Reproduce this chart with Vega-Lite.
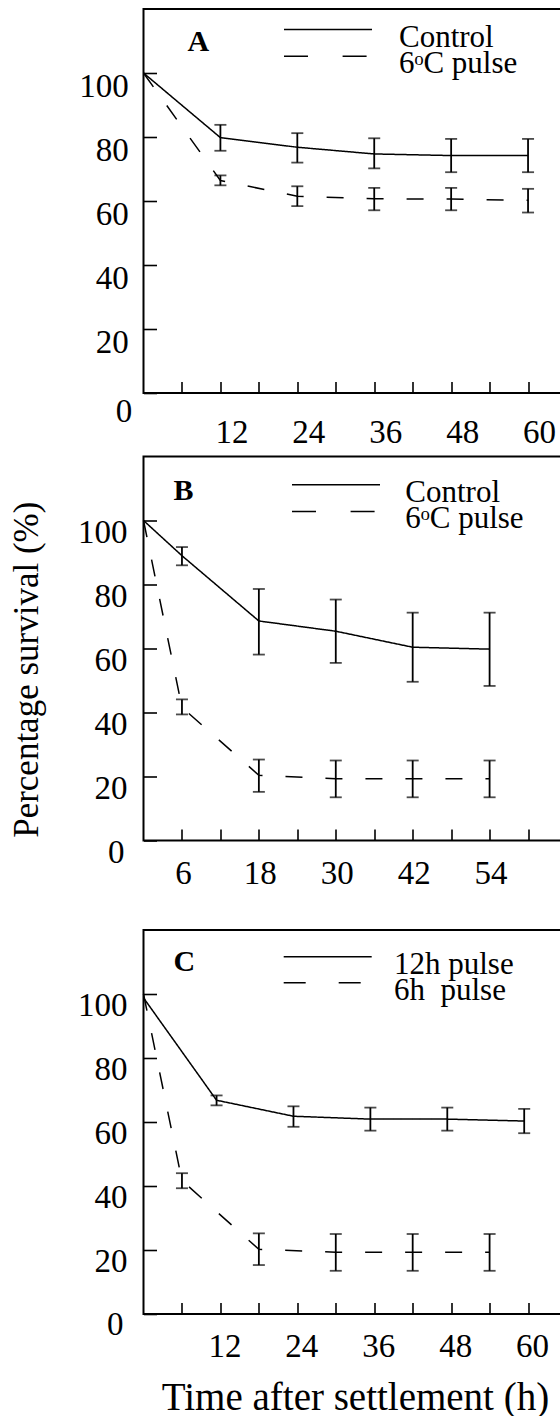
{
  "$schema": "https://vega.github.io/schema/vega-lite/v6.json",
  "padding": {"left": 7.5, "top": 8, "right": 0, "bottom": 0},
  "background": "white",
  "config": {
    "font": "Liberation Serif",
    "view": {"stroke": "black", "strokeWidth": 2},
    "axis": {"domain": false, "grid": false, "tickColor": "black", "tickWidth": 1.6, "labelFont": "Liberation Serif", "labelFontSize": 33, "labelColor": "black", "titleFont": "Liberation Serif", "titleColor": "black", "titleFontWeight": "normal", "labelOverlap": false, "labelFlush": false, "labelBound": false},
    "title": {"anchor": "start", "frame": "group", "offset": 0, "baseline": "alphabetic", "font": "Liberation Serif", "fontSize": 30, "fontWeight": "bold", "color": "black"},
    "legend": {"title": null, "orient": "none", "direction": "vertical", "padding": 0, "symbolType": "M-5,0H5", "symbolSize": 309.8, "symbolStrokeWidth": 1.5, "symbolStrokeColor": "black", "symbolFillColor": "transparent", "labelFont": "Liberation Serif", "labelFontSize": 31, "labelColor": "black", "labelBaseline": "middle", "labelLimit": 400}
  },
  "datasets": {
    "surv": [
      {"panel": "A", "series": "Control", "t": 0, "v": 100},
      {"panel": "A", "series": "Control", "t": 12, "v": 79.8, "lo": 75.7, "hi": 83.8},
      {"panel": "A", "series": "Control", "t": 24, "v": 76.8, "lo": 72.0, "hi": 81.2},
      {"panel": "A", "series": "Control", "t": 36, "v": 74.7, "lo": 70.2, "hi": 79.6},
      {"panel": "A", "series": "Control", "t": 48, "v": 74.2, "lo": 69.0, "hi": 79.4},
      {"panel": "A", "series": "Control", "t": 60, "v": 74.2, "lo": 69.0, "hi": 79.4},
      {"panel": "A", "series": "6ᵒC pulse", "t": 0, "v": 100},
      {"panel": "A", "series": "6ᵒC pulse", "t": 12, "v": 66.4, "lo": 64.9, "hi": 68.0},
      {"panel": "A", "series": "6ᵒC pulse", "t": 24, "v": 61.5, "lo": 58.4, "hi": 64.6},
      {"panel": "A", "series": "6ᵒC pulse", "t": 36, "v": 60.7, "lo": 57.1, "hi": 64.1},
      {"panel": "A", "series": "6ᵒC pulse", "t": 48, "v": 60.6, "lo": 57.1, "hi": 64.1},
      {"panel": "A", "series": "6ᵒC pulse", "t": 60, "v": 60.2, "lo": 56.4, "hi": 63.8},
      {"panel": "B", "series": "Control", "t": 0, "v": 100},
      {"panel": "B", "series": "Control", "t": 6, "v": 89.0, "lo": 86.0, "hi": 91.7},
      {"panel": "B", "series": "Control", "t": 18, "v": 68.6, "lo": 58.1, "hi": 78.6},
      {"panel": "B", "series": "Control", "t": 30, "v": 65.4, "lo": 55.5, "hi": 75.3},
      {"panel": "B", "series": "Control", "t": 42, "v": 60.4, "lo": 49.6, "hi": 71.2},
      {"panel": "B", "series": "Control", "t": 54, "v": 59.8, "lo": 48.3, "hi": 71.2},
      {"panel": "B", "series": "6ᵒC pulse", "t": 0, "v": 100},
      {"panel": "B", "series": "6ᵒC pulse", "t": 6, "v": 41.6, "lo": 39.4, "hi": 44.1},
      {"panel": "B", "series": "6ᵒC pulse", "t": 18, "v": 20.4, "lo": 15.2, "hi": 25.3},
      {"panel": "B", "series": "6ᵒC pulse", "t": 30, "v": 19.3, "lo": 13.5, "hi": 25.0},
      {"panel": "B", "series": "6ᵒC pulse", "t": 42, "v": 19.3, "lo": 13.5, "hi": 25.0},
      {"panel": "B", "series": "6ᵒC pulse", "t": 54, "v": 19.3, "lo": 13.5, "hi": 25.0},
      {"panel": "C", "series": "12h pulse", "t": 0, "v": 98.8},
      {"panel": "C", "series": "12h pulse", "t": 11.4, "v": 66.8, "lo": 65.2, "hi": 68.3},
      {"panel": "C", "series": "12h pulse", "t": 23.4, "v": 61.8, "lo": 58.5, "hi": 64.9},
      {"panel": "C", "series": "12h pulse", "t": 35.4, "v": 60.9, "lo": 57.3, "hi": 64.5},
      {"panel": "C", "series": "12h pulse", "t": 47.4, "v": 60.9, "lo": 57.3, "hi": 64.5},
      {"panel": "C", "series": "12h pulse", "t": 59.4, "v": 60.3, "lo": 56.5, "hi": 64.1},
      {"panel": "C", "series": "6h\u00a0 pulse", "t": 0, "v": 100},
      {"panel": "C", "series": "6h\u00a0 pulse", "t": 6, "v": 41.7, "lo": 39.3, "hi": 44.0},
      {"panel": "C", "series": "6h\u00a0 pulse", "t": 18, "v": 20.2, "lo": 15.3, "hi": 25.2},
      {"panel": "C", "series": "6h\u00a0 pulse", "t": 30, "v": 19.3, "lo": 13.5, "hi": 25.0},
      {"panel": "C", "series": "6h\u00a0 pulse", "t": 42, "v": 19.3, "lo": 13.5, "hi": 25.0},
      {"panel": "C", "series": "6h\u00a0 pulse", "t": 54, "v": 19.3, "lo": 13.5, "hi": 25.0}
    ]
  },
  "spacing": 37,
  "resolve": {"scale": {"strokeDash": "independent", "opacity": "independent"}, "legend": {"strokeDash": "independent", "opacity": "independent"}},
  "vconcat": [
    {
      "spacing": 5.5,
      "resolve": {"scale": {"strokeDash": "independent", "opacity": "independent"}, "legend": {"strokeDash": "independent", "opacity": "independent"}},
      "vconcat": [
        {
          "width": 423, "height": 384,
          "data": {"name": "surv"},
          "transform": [{"filter": "datum.panel === 'A'"}],
          "title": {"text": "A", "dx": 44, "dy": 51.7},
          "layer": [
            {
              "transform": [{"filter": "datum.series === 'Control'"}],
              "mark": {"type": "line", "color": "black", "strokeWidth": 1.5},
              "encoding": {
                "x": {"field": "t", "type": "quantitative", "scale": {"domain": [0, 66], "nice": false, "zero": false},
                      "axis": {"title": null, "values": [6, 12, 18, 24, 30, 36, 42, 48, 54, 60], "labelExpr": "datum.value % 12 === 0 ? datum.label : ''", "tickSize": -11.5, "labelPadding": 34.5, "labelOffset": 11}},
                "y": {"field": "v", "type": "quantitative", "scale": {"domain": [0, 120], "nice": false},
                      "axis": {"title": null, "values": [0, 20, 40, 60, 80, 100], "tickSize": -13,
                               "labelPadding": {"condition": {"test": "datum.value === 0", "value": 24.8}, "value": 28.2},
                               "labelOffset": {"condition": {"test": "datum.value === 0", "value": 18.4}, "value": 13.5}}},
                "strokeDash": {"field": "series", "type": "nominal",
                               "scale": {"domain": ["Control"], "range": [[1, 0]]},
                               "legend": {"legendX": 169, "legendY": 5, "labelOffset": 55.5,
                                          "encode": {"labels": {"update": {"dy": {"value": 8}}}}}}
              }
            },
            {
              "transform": [{"filter": "datum.series !== 'Control'"}],
              "mark": {"type": "line", "color": "black", "strokeWidth": 1.5, "strokeDash": [17, 23]},
              "encoding": {
                "x": {"field": "t", "type": "quantitative", "axis": {"title": null}},
                "y": {"field": "v", "type": "quantitative", "axis": {"title": null}},
                "opacity": {"field": "series", "type": "nominal",
                            "scale": {"domain": ["6ᵒC pulse"], "range": [1]},
                            "legend": {"legendX": 169, "legendY": 31.7, "labelOffset": 55.5, "symbolDash": [24, 34.6], "symbolOpacity": 1,
                                       "encode": {"labels": {"update": {"dy": {"value": 8}}}}}}
              }
            },
            {
              "transform": [{"filter": "isValid(datum.lo)"}],
              "mark": {"type": "errorbar", "ticks": true, "size": 12, "thickness": 1.8, "color": "black"},
              "encoding": {
                "x": {"field": "t", "type": "quantitative", "axis": {"title": null}},
                "y": {"field": "lo", "type": "quantitative", "axis": {"title": null}},
                "y2": {"field": "hi"}
              }
            }
          ]
        },
        {
          "width": 423, "height": 384,
          "data": {"name": "surv"},
          "transform": [{"filter": "datum.panel === 'B'"}],
          "title": {"text": "B", "dx": 30, "dy": 53.4},
          "layer": [
            {
              "transform": [{"filter": "datum.series === 'Control'"}],
              "mark": {"type": "line", "color": "black", "strokeWidth": 1.5},
              "encoding": {
                "x": {"field": "t", "type": "quantitative", "scale": {"domain": [0, 66], "nice": false, "zero": false},
                      "axis": {"title": null, "values": [6, 12, 18, 24, 30, 36, 42, 48, 54, 60], "labelExpr": "datum.value % 12 === 6 ? datum.label : ''", "tickSize": -11.5, "labelPadding": 28.5, "labelOffset": 1}},
                "y": {"field": "v", "type": "quantitative", "scale": {"domain": [0, 120], "nice": false},
                      "axis": {"title": "Percentage survival (%)", "titleFontSize": 35, "titleX": -106.4, "titleY": 212.7, "titleAngle": -90, "titleBaseline": "alphabetic", "titleAlign": "center",
                               "values": [0, 20, 40, 60, 80, 100], "tickSize": -13,
                               "labelPadding": {"condition": {"test": "datum.value === 0", "value": 32.5}, "value": 29.5},
                               "labelOffset": 11.5}},
                "strokeDash": {"field": "series", "type": "nominal",
                               "scale": {"domain": ["Control"], "range": [[1, 0]]},
                               "legend": {"legendX": 177, "legendY": 12.7, "labelOffset": 53.8,
                                          "encode": {"labels": {"update": {"dy": {"value": 8}}}}}}
              }
            },
            {
              "transform": [{"filter": "datum.series !== 'Control'"}],
              "mark": {"type": "line", "color": "black", "strokeWidth": 1.5, "strokeDash": [17, 23]},
              "encoding": {
                "x": {"field": "t", "type": "quantitative", "axis": {"title": null}},
                "y": {"field": "v", "type": "quantitative", "axis": {"title": "Percentage survival (%)"}},
                "opacity": {"field": "series", "type": "nominal",
                            "scale": {"domain": ["6ᵒC pulse"], "range": [1]},
                            "legend": {"legendX": 177, "legendY": 39.4, "labelOffset": 53.8, "symbolDash": [24, 34.6], "symbolOpacity": 1,
                                       "encode": {"labels": {"update": {"dy": {"value": 8}}}}}}
              }
            },
            {
              "transform": [{"filter": "isValid(datum.lo)"}],
              "mark": {"type": "errorbar", "ticks": true, "size": 12, "thickness": 1.8, "color": "black"},
              "encoding": {
                "x": {"field": "t", "type": "quantitative", "axis": {"title": null}},
                "y": {"field": "lo", "type": "quantitative", "axis": {"title": "Percentage survival (%)"}},
                "y2": {"field": "hi"}
              }
            }
          ]
        }
      ]
    },
    {
      "width": 423, "height": 384,
      "data": {"name": "surv"},
      "transform": [{"filter": "datum.panel === 'C'"}],
      "title": {"text": "C", "dx": 30, "dy": 51.3},
      "layer": [
        {
          "transform": [{"filter": "datum.series === '12h pulse'"}],
          "mark": {"type": "line", "color": "black", "strokeWidth": 1.5},
          "encoding": {
            "x": {"field": "t", "type": "quantitative", "scale": {"domain": [0, 66], "nice": false, "zero": false},
                  "axis": {"title": "Time after settlement (h)", "titleFontSize": 39, "titleX": 211.5, "titleY": 95, "titleBaseline": "alphabetic", "titleAlign": "center",
                           "values": [6, 12, 18, 24, 30, 36, 42, 48, 54, 60], "labelExpr": "datum.value % 12 === 0 ? datum.label : ''", "tickSize": -11.5, "labelPadding": 28.2, "labelOffset": 4}},
            "y": {"field": "v", "type": "quantitative", "scale": {"domain": [0, 120], "nice": false},
                  "axis": {"title": null, "values": [0, 20, 40, 60, 80, 100], "tickSize": -13,
                           "labelPadding": {"condition": {"test": "datum.value === 0", "value": 33.5}, "value": 29.5},
                           "labelOffset": {"condition": {"test": "datum.value === 0", "value": 10.5}, "value": 11.7}}},
            "strokeDash": {"field": "series", "type": "nominal",
                           "scale": {"domain": ["12h pulse"], "range": [[1, 0]]},
                           "legend": {"legendX": 168.7, "legendY": 11.3, "labelOffset": 50.8,
                                      "encode": {"labels": {"update": {"dy": {"value": 8}}}}}}
          }
        },
        {
          "transform": [{"filter": "datum.series !== '12h pulse'"}],
          "mark": {"type": "line", "color": "black", "strokeWidth": 1.5, "strokeDash": [17, 23]},
          "encoding": {
            "x": {"field": "t", "type": "quantitative", "axis": {"title": "Time after settlement (h)"}},
            "y": {"field": "v", "type": "quantitative", "axis": {"title": null}},
            "opacity": {"field": "series", "type": "nominal",
                        "scale": {"domain": ["6h\u00a0 pulse"], "range": [1]},
                        "legend": {"legendX": 168.7, "legendY": 37.3, "labelOffset": 50.8, "symbolDash": [22, 33], "symbolOpacity": 1,
                                   "encode": {"labels": {"update": {"dy": {"value": 8}}}}}}
          }
        },
        {
          "transform": [{"filter": "isValid(datum.lo)"}],
          "mark": {"type": "errorbar", "ticks": true, "size": 12, "thickness": 1.8, "color": "black"},
          "encoding": {
            "x": {"field": "t", "type": "quantitative", "axis": {"title": "Time after settlement (h)"}},
            "y": {"field": "lo", "type": "quantitative", "axis": {"title": null}},
            "y2": {"field": "hi"}
          }
        }
      ]
    }
  ]
}
